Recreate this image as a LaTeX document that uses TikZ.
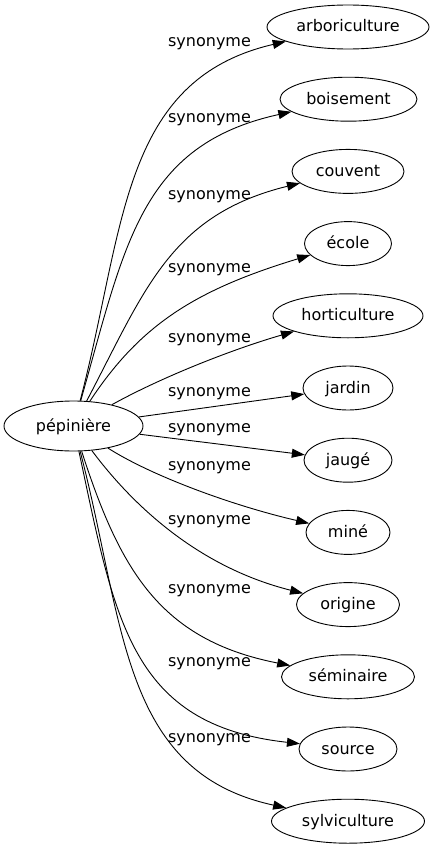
\documentclass[tikz,border=0pt]{standalone}
\usepackage{fontspec}
\setmainfont{DejaVu Sans}
\usetikzlibrary{arrows.meta,shapes.geometric}
\begin{document}
\begin{tikzpicture}[x=1pt,y=-1pt,
  font=\fontsize{16}{19}\selectfont,
  word/.style={ellipse, draw, line width=0.9pt, inner sep=0pt, minimum height=44pt, text height=10pt, text depth=0pt},
  lab/.style={inner sep=0pt},
  edge/.style={draw, line width=0.9pt, -{Triangle[length=13pt,width=9pt]}}]
\useasboundingbox (0,0) rectangle (435,851);
\node[word, minimum width=139pt, minimum height=50pt] (p) at (73.5,426) {pépinière};
\node[word, minimum width=162pt] (t1) at (348,27) {arboriculture};
\node[word, minimum width=137pt] (t2) at (348.5,99.2) {boisement};
\node[word, minimum width=112pt] (t3) at (348,171.4) {couvent};
\node[word, minimum width=87pt] (t4) at (348,243.6) {école};
\node[word, minimum width=150pt] (t5) at (348,315.8) {horticulture};
\node[word, minimum width=90pt] (t6) at (348,388) {jardin};
\node[word, minimum width=88pt] (t7) at (348,460.2) {jaugé};
\node[word, minimum width=84pt] (t8) at (348,532.4) {miné};
\node[word, minimum width=103pt] (t9) at (348,604.6) {origine};
\node[word, minimum width=133pt] (t10) at (348,676.8) {séminaire};
\node[word, minimum width=98pt] (t11) at (348,749) {source};
\node[word, minimum width=153pt] (t12) at (348,821.2) {sylviculture};
\draw[edge] (p) .. controls (125,230) and (120,80) .. (t1);
\draw[edge] (p) .. controls (125,245) and (140,145) .. (t2);
\draw[edge] (p) .. controls (145,290) and (170,215) .. (t3);
\draw[edge] (p) .. controls (140,325) and (195,290) .. (t4);
\draw[edge] (p) .. controls (160,378) and (230,350) .. (t5);
\draw[edge] (p) -- (t6);
\draw[edge] (p) -- (t7);
\draw[edge] (p) .. controls (150,475) and (230,505) .. (t8);
\draw[edge] (p) .. controls (125,495) and (190,565) .. (t9);
\draw[edge] (p) .. controls (120,570) and (160,640) .. (t10);
\draw[edge] (p) .. controls (115,620) and (130,725) .. (t11);
\draw[edge] (p) .. controls (125,622) and (120,772) .. (t12);
\node[lab] (l1) at (209.5,44) {synonyme};
\node[lab] (l2) at (209.5,119.5) {synonyme};
\node[lab] (l3) at (209.5,197) {synonyme};
\node[lab] (l4) at (209.5,269.5) {synonyme};
\node[lab] (l5) at (209.5,340) {synonyme};
\node[lab] (l6) at (209.5,393.5) {synonyme};
\node[lab] (l7) at (209.5,430) {synonyme};
\node[lab] (l8) at (209.5,468) {synonyme};
\node[lab] (l9) at (209.5,522) {synonyme};
\node[lab] (l10) at (209.5,590.5) {synonyme};
\node[lab] (l11) at (209.5,663.5) {synonyme};
\node[lab] (l12) at (209.5,740) {synonyme};
\end{tikzpicture}
\end{document}
